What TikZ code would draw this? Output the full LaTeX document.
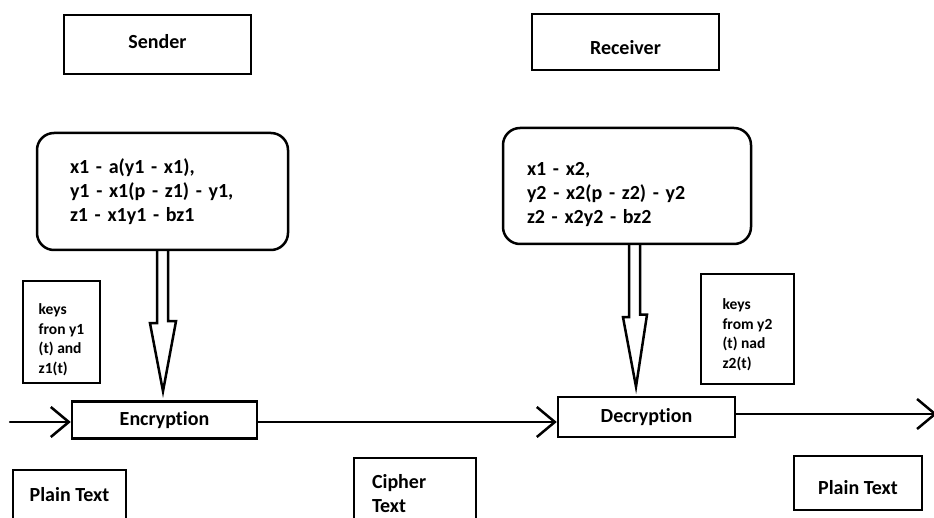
\documentclass[tikz,border=0pt]{standalone}
\usepackage{fontspec}
\setmainfont{Carlito}[Ligatures={NoCommon,NoContextual}]
\usetikzlibrary{arrows.meta,calc}
\tikzset{
  box/.style={draw,line width=2.5pt,font=\bfseries\fontsize{20}{24}\selectfont,inner sep=2pt},
  eqbox/.style={box,rounded corners=17pt,align=left},
  keybox/.style={box,align=left,font=\bfseries\fontsize{15.5}{19.5}\selectfont},
  flow/.style={line width=2.5pt,-{Straight Barb[length=18pt,width=30pt]}},
  hollow/.style={line width=2.5pt,line join=miter}
}
\begin{document}
\begin{tikzpicture}[x=1pt,y=-1pt,line cap=round]
\useasboundingbox (0,0) rectangle (934,518);
% sender side
\node[box,minimum width=187pt,minimum height=59pt,text depth=6pt] (sender) at (157.5,44.5){Sender};
\node[eqbox,text width=185pt,inner xsep=33pt,minimum height=117pt] (eqs) at (162.5,191.5)
  {x1 - a(y1 - x1),\\ y1 - x1(p - z1) - y1,\\ z1 - x1y1 - bz1};
\node[keybox,minimum width=77pt,minimum height=102pt] (keys) at (61.5,332)
  {\rule{0pt}{26pt}keys\\ fron y1\\ (t) and\\ z1(t)};
\node[box,minimum width=185pt,minimum height=37pt] (enc) at (164.5,420){Encryption};
\node[box,minimum width=113pt,minimum height=50pt] (ptin) at (69.5,495){Plain Text};
% receiver side
\node[box,minimum width=187pt,minimum height=56pt,text height=25pt] (receiver) at (625.5,42){Receiver};
\node[eqbox,text width=200pt,inner xsep=24pt,minimum height=116pt] (eqr) at (627,186)
  {\rule{0pt}{30pt}x1 - x2,\\ y2 - x2(p - z2) - y2\\ z2 - x2y2 - bz2};
\node[keybox,minimum width=93pt,minimum height=110pt] (keyr) at (747.5,329)
  {\rule{0pt}{22pt}keys\\ from y2\\ (t) nad\\ z2(t)};
\node[box,minimum width=177pt,minimum height=40pt] (dec) at (646.5,417){Decryption};
\node[box,minimum width=128pt,minimum height=54pt,text height=23pt] (ptout) at (858,483){Plain Text};
% channel
\node[box,align=left,text width=86pt,inner xsep=18pt,minimum height=72pt] (ct) at (415,494){Cipher\\ Text};
% hollow arrows
\draw[hollow] ($(eqs.south)+(-5.5,0)$) -- ++(0,72) -- ++(-7,0) -- ($(enc.north)+(-1.5,-9)$)
  -- ++(13,-70) -- ++(-8,0) -- ($(eqs.south)+(5.5,0)$);
\draw[hollow] ($(eqr.south)+(2,0)$) -- ++(0,72) -- ++(-6,0) -- ($(dec.north)+(-10.5,-9)$)
  -- ++(11,-72) -- ++(-7,0) -- ($(eqr.south)+(13,0)$);
% data flow
\coordinate (in) at (10,422);
\coordinate (out) at (937,414);
\draw[flow] (in) -- (in -| enc.west);
\draw[flow] ([yshift=-2pt]enc.east) -- ([yshift=-2pt]enc.east -| dec.west);
\draw[flow] ([yshift=3pt]dec.east) -- (out);
\end{tikzpicture}
\end{document}
